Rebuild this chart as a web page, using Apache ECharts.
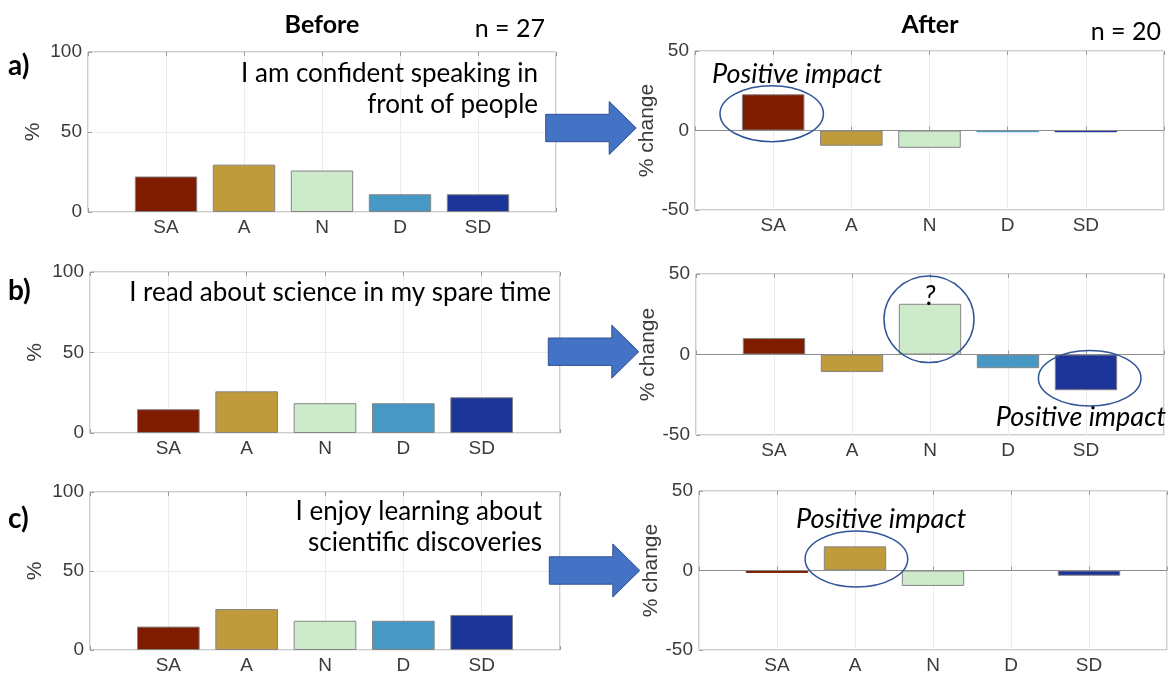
<!DOCTYPE html>
<html>
<head>
<meta charset="utf-8">
<script src="https://cdn.jsdelivr.net/npm/echarts@6/dist/echarts.min.js"></script>
<style>
  html, body { margin: 0; padding: 0; background: #fff; }
  #chart { width: 1172px; height: 675px; }
</style>
</head>
<body>
<div id="chart"></div>
<script>
// survey answers: strongly agree .. strongly disagree
var categories = ["SA", "A", "N", "D", "SD"];
var barColors = ["#7f1c00", "#bf9b3b", "#cdebca", "#4898c5", "#1c3497"];

// % of answers before (n = 27)
var beforeA = [22.2, 29.6, 25.9, 11.1, 11.1];
var beforeB = [14.8, 25.9, 18.5, 18.5, 22.2];
var beforeC = [14.8, 25.9, 18.5, 18.5, 22.2];
// % change after (n = 20)
var changeA = [22.8, -9.6, -10.9, -1.1, -1.1];
var changeB = [10.2, -10.9, 31.5, -8.5, -22.2];
var changeC = [-1.5, 15.2, -9.7, 0, -3.3];

var beforeTicks = [0, 50, 100];
var changeTicks = [-50, 0, 50];

var statements = [
  "I am confident speaking in\nfront of people",
  "I read about science in my spare time",
  "I enjoy learning about\nscientific discoveries"
];

var tickFont = "Liberation Sans";
var textFont = "Lato";
var boxColor = "#9c9c9c";
var tickColor = "#3a3a3a";

var panels = [
  { left: 88, top: 52, width: 468, height: 160, values: beforeA, ticks: beforeTicks, name: "%", gap: 44 },
  { left: 90, top: 272, width: 470, height: 161, values: beforeB, ticks: beforeTicks, name: "%", gap: 44 },
  { left: 90, top: 492, width: 470, height: 161, values: beforeC, ticks: beforeTicks, name: "%", gap: 44 },
  { left: 695, top: 51, width: 469, height: 159, values: changeA, ticks: changeTicks, name: "% change", gap: 36 },
  { left: 696, top: 274, width: 468, height: 161, values: changeB, ticks: changeTicks, name: "% change", gap: 36 },
  { left: 699, top: 491, width: 468, height: 161, values: changeC, ticks: changeTicks, name: "% change", gap: 36 }
];

// empty slot on each side, MATLAB style xlim [0 6]
var slots = [""].concat(categories, [""]);

var grids = [], xAxes = [], yAxes = [], series = [];
panels.forEach(function (p, i) {
  grids.push({
    left: p.left, top: p.top, width: p.width, height: p.height,
    show: true, borderColor: boxColor, borderWidth: 1, backgroundColor: "#fff"
  });
  xAxes.push({
    type: "category", gridIndex: i, data: slots, boundaryGap: false,
    axisLine: { show: false },
    axisTick: { show: true, inside: true, length: 4, lineStyle: { color: boxColor } },
    axisLabel: { margin: 6, fontSize: 19, fontFamily: tickFont, color: tickColor, interval: 0 },
    splitLine: { show: true, lineStyle: { color: "#ececec" } }
  });
  xAxes.push({
    type: "category", gridIndex: i, data: slots, boundaryGap: false, position: "top",
    axisLine: { show: false }, axisLabel: { show: false },
    axisTick: { show: true, inside: true, length: 4, lineStyle: { color: boxColor } }
  });
  yAxes.push({
    type: "value", gridIndex: i,
    min: p.ticks[0], max: p.ticks[p.ticks.length - 1], interval: p.ticks[1] - p.ticks[0],
    name: p.name, nameLocation: "middle", nameGap: p.gap,
    nameTextStyle: { fontSize: 21, fontFamily: tickFont, color: tickColor },
    axisLine: { show: false },
    axisTick: { show: true, inside: true, length: 4, lineStyle: { color: boxColor } },
    axisLabel: { margin: 6, fontSize: 19, fontFamily: tickFont, color: tickColor },
    splitLine: { show: true, lineStyle: { color: "#ececec" } }
  });
  var data = ["-"].concat(p.values.map(function (v, k) {
    var item = { value: v, itemStyle: { color: barColors[k] } };
    // zero bars vanish, very thin ones keep their own colour as edge
    if (v === 0) item.itemStyle.borderWidth = 0;
    else if (Math.abs(v) < 2) item.itemStyle.borderColor = barColors[k];
    return item;
  }), ["-"]);
  var s = {
    type: "bar", xAxisIndex: i * 2, yAxisIndex: i, data: data, barWidth: "80%",
    itemStyle: { borderColor: "#858585", borderWidth: 1 },
    silent: true, animation: false
  };
  if (p.ticks[0] < 0) {
    s.markLine = {
      silent: true, symbol: "none", label: { show: false },
      lineStyle: { color: "#8c8c8c", width: 1, type: "solid" },
      data: [{ yAxis: 0 }]
    };
  }
  series.push(s);
});

function txt(x, y, text, opts) {
  opts = opts || {};
  return {
    type: "text", x: x, y: y, z: 100,
    style: {
      text: text, fill: "#000",
      fontFamily: textFont,
      fontSize: opts.size || 26,
      fontWeight: opts.weight || "normal",
      fontStyle: opts.style || "normal",
      align: opts.align || "left",
      verticalAlign: "middle",
      lineHeight: opts.lineHeight || 30
    }
  };
}

function arrow(x, y) {
  var sh = 13.7, hh = 26.5, sl = 63.5, hl = 27;
  return {
    type: "polygon", z: 100,
    shape: { points: [[x, y - sh], [x + sl, y - sh], [x + sl, y - hh], [x + sl + hl, y],
      [x + sl, y + hh], [x + sl, y + sh], [x, y + sh]] },
    style: { fill: "#4472c4", stroke: "#2f528f", lineWidth: 1 }
  };
}

function ring(cx, cy, rx, ry) {
  return {
    type: "ellipse", z: 100,
    shape: { cx: cx, cy: cy, rx: rx, ry: ry },
    style: { fill: null, stroke: "#2f5597", lineWidth: 1.5 }
  };
}

var graphics = [
  txt(322, 25, "Before", { weight: "bold", size: 25, align: "center" }),
  txt(930, 25, "After", { weight: "bold", size: 25, align: "center" }),
  txt(545, 29, "n = 27", { size: 25, align: "right" }),
  txt(1161, 32, "n = 20", { size: 25, align: "right" }),
  txt(8, 66, "a)", { weight: "bold", size: 28 }),
  txt(8, 291, "b)", { weight: "bold", size: 28 }),
  txt(8, 519, "c)", { weight: "bold", size: 28 }),
  txt(538, 89, statements[0], { align: "right", lineHeight: 31 }),
  txt(551, 293, statements[1], { align: "right" }),
  txt(542, 527, statements[2], { align: "right", lineHeight: 31 }),
  arrow(545.7, 128), arrow(548.3, 351.7), arrow(549.3, 570.5),
  ring(771.7, 113.7, 51.7, 28),
  ring(929, 319.3, 45, 43.3),
  ring(1089.7, 378.3, 51.3, 27.7),
  ring(856.4, 559, 51.3, 28),
  txt(712, 74, "Positive impact", { style: "italic", size: 27 }),
  txt(1166, 417, "Positive impact", { style: "italic", size: 27, align: "right" }),
  txt(796, 519, "Positive impact", { style: "italic", size: 27 }),
  txt(930, 296, "?", { style: "italic", size: 27, align: "center" })
];

var chart = echarts.init(document.getElementById("chart"), null, { renderer: "canvas" });
chart.setOption({
  animation: false,
  backgroundColor: "#fff",
  grid: grids,
  xAxis: xAxes,
  yAxis: yAxes,
  series: series,
  graphic: graphics
});
</script>
</body>
</html>
